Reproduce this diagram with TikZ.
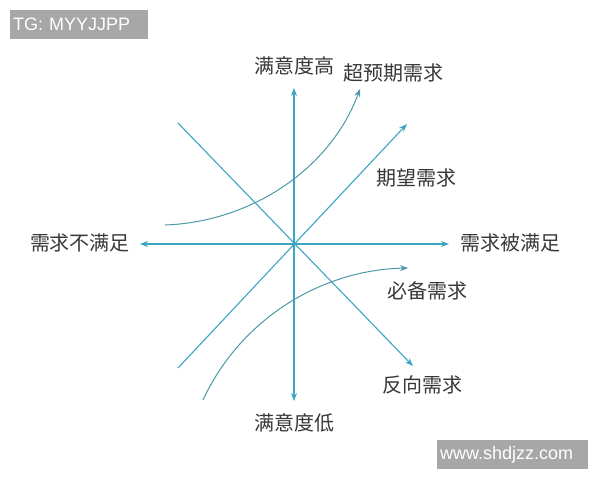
\documentclass[tikz,border=0pt]{standalone}
\usepackage{fontspec}
\setmainfont{Liberation Sans}
\newfontfamily\cjk{Noto Sans CJK SC}
\usetikzlibrary{arrows.meta}
\definecolor{axiscol}{HTML}{3AA6C2}
\definecolor{curvecol}{HTML}{4F98A8}
\definecolor{txtcol}{HTML}{383838}
\definecolor{wmcol}{HTML}{A7A7A7}
\begin{document}
\begin{tikzpicture}[x=1pt,y=-1pt,
  axisline/.style={draw=axiscol,line width=1.1pt,-{Stealth[length=8pt,width=6pt]}},
  curveline/.style={draw=curvecol,line width=1pt,-{Stealth[length=8pt,width=6pt]}},
  lbl/.style={text=txtcol,font=\cjk\fontsize{20}{22}\selectfont,inner sep=0pt},
  wmark/.style={fill=wmcol,text=white,font=\fontsize{18}{20}\selectfont,inner sep=0pt,anchor=north west}]
\useasboundingbox (0,0) rectangle (600,480);
\fill[white] (0,0) rectangle (600,480);
% watermarks
\node[wmark,minimum width=138pt,minimum height=29pt,text width=134pt,align=left] (wm1) at (10,10) {\hspace*{1pt}TG: MYYJJPP};
\node[wmark,minimum width=151pt,minimum height=29pt,text width=147pt,align=left] (wm2) at (437,440) {\hspace*{1pt}www.shdjzz.com};
% coordinates
\coordinate (o) at (294,244);
\coordinate (top) at (294,88);
\coordinate (bot) at (294,401);
\coordinate (lft) at (140,244);
\coordinate (rgt) at (449,244);
\coordinate (e1) at (178,368);
\coordinate (e2) at (407,124);
\coordinate (r1) at (178,123);
\coordinate (r2) at (413,366);
\coordinate (s1) at (165,225);
\coordinate (s2) at (360,89);
\coordinate (m1) at (203,400);
\coordinate (m2) at (408,268);
% axes
\draw[axisline] (o) -- (top);
\draw[axisline] (o) -- (bot);
\draw[axisline] (o) -- (lft);
\draw[axisline] (o) -- (rgt);
\draw[axisline] (e1) -- (e2);
\draw[axisline] (r1) -- (r2);
% curves
\draw[curveline] (s1) .. controls (250,222) and (330,170) .. (s2);
\draw[curveline] (m1) .. controls (240,320) and (320,270) .. (m2);
% labels
\node[lbl] (hi) at (294,66) {满意度高};
\node[lbl] (lo) at (294,423) {满意度低};
\node[lbl] (no) at (80,243) {需求不满足};
\node[lbl] (yes) at (510,243) {需求被满足};
\node[lbl] (exc) at (393,73) {超预期需求};
\node[lbl] (exp) at (416,178) {期望需求};
\node[lbl] (must) at (427,291) {必备需求};
\node[lbl] (rev) at (422,385) {反向需求};
\end{tikzpicture}
\end{document}
